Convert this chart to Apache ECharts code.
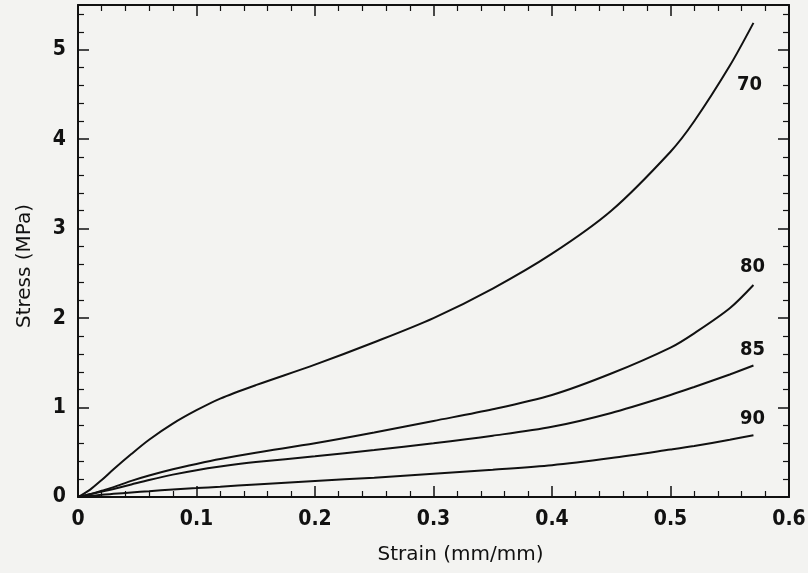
<!DOCTYPE html>
<html>
<head>
<meta charset="utf-8">
<script src="https://cdn.jsdelivr.net/npm/echarts@6/dist/echarts.min.js"></script>
<style>
html,body{margin:0;padding:0;background:#f3f3f1;}
#chart{width:808px;height:573px;}
</style>
</head>
<body>
<div id="chart"></div>
<script>
// ---- data ----
const strain   = [0, 0.01, 0.02, 0.03, 0.045, 0.06, 0.08, 0.1, 0.12, 0.15, 0.2, 0.25, 0.3, 0.35, 0.4, 0.45, 0.5, 0.52, 0.55, 0.57];
const stress70 = [0, 0.08, 0.19, 0.31, 0.48, 0.64, 0.82, 0.97, 1.1, 1.25, 1.48, 1.73, 2.0, 2.33, 2.72, 3.2, 3.86, 4.2, 4.82, 5.3];
const stress80 = [0, 0.03, 0.07, 0.11, 0.18, 0.24, 0.31, 0.37, 0.425, 0.495, 0.6, 0.72, 0.85, 0.98, 1.14, 1.38, 1.67, 1.83, 2.11, 2.37];
const stress85 = [0, 0.03, 0.06, 0.09, 0.14, 0.19, 0.25, 0.3, 0.34, 0.39, 0.455, 0.525, 0.6, 0.685, 0.785, 0.94, 1.14, 1.23, 1.37, 1.47];
const stress90 = [0, 0.01, 0.025, 0.035, 0.05, 0.065, 0.085, 0.1, 0.115, 0.14, 0.18, 0.215, 0.26, 0.305, 0.355, 0.435, 0.53, 0.57, 0.64, 0.69];
const curveNames = ['70', '80', '85', '90'];
const xTicks = { min: 0, max: 0.6, interval: 0.1 };
const yTicks = { min: 0, max: 5.5, interval: 1 };
const xTitle = 'Strain (mm/mm)';
const yTitle = 'Stress (MPa)';

const numFont = '"Liberation Sans Narrow", "Arial Narrow", "DejaVu Sans Condensed", sans-serif';
const nameFont = '"DejaVu Sans", sans-serif';
const ink = '#111';

const allStress = [stress70, stress80, stress85, stress90];
const labelOffsets = [[-4, 62], [-1, -18], [-1, -16], [-1, -16]];

function axisCommon(showLabel) {
  return {
    axisLine: { show: true, onZero: false, lineStyle: { color: ink, width: 2 } },
    axisTick: { show: true, inside: true, length: 11, lineStyle: { color: ink, width: 1.5 } },
    minorTick: { show: true, splitNumber: 5, length: 6, lineStyle: { color: ink, width: 1.2 } },
    splitLine: { show: false },
    axisLabel: showLabel ? {
      show: true, margin: 12, color: ink, fontFamily: numFont, fontWeight: 'bold', fontSize: 21,
      showMaxLabel: false
    } : { show: false }
  };
}

const series = allStress.map((ys, i) => ({
  name: curveNames[i],
  type: 'line',
  data: strain.map((s, k) => [s, ys[k]]),
  smooth: 0.3,
  symbol: 'none',
  lineStyle: { color: ink, width: 2 },
  endLabel: {
    show: true,
    formatter: curveNames[i],
    color: ink,
    fontFamily: numFont,
    fontWeight: 'bold',
    fontSize: 20,
    distance: 0,
    align: 'center',
    verticalAlign: 'middle',
    offset: labelOffsets[i]
  },
  xAxisIndex: 0,
  yAxisIndex: 0
}));

const xAxisBottom = Object.assign({
  type: 'value', position: 'bottom',
  min: xTicks.min, max: xTicks.max, interval: xTicks.interval,
  name: xTitle, nameLocation: 'middle', nameGap: 48, nameMoveOverlap: false,
  nameTextStyle: { fontFamily: nameFont, fontSize: 20, color: ink, padding: [0, 0, 0, 54] }
}, axisCommon(true));
xAxisBottom.axisLabel.showMaxLabel = true;

const option = {
  backgroundColor: '#f3f3f1',
  animation: false,
  grid: { left: 78, right: 19, top: 5, bottom: 76, outerBoundsMode: 'none', containLabel: false },
  xAxis: [
    xAxisBottom,
    Object.assign({
      type: 'value', position: 'top',
      min: xTicks.min, max: xTicks.max, interval: xTicks.interval
    }, axisCommon(false))
  ],
  yAxis: [
    Object.assign({
      type: 'value', position: 'left',
      min: yTicks.min, max: yTicks.max, interval: yTicks.interval,
      name: yTitle, nameLocation: 'middle', nameGap: 43, nameMoveOverlap: false,
      nameTextStyle: { fontFamily: nameFont, fontSize: 20, color: ink, padding: [0, 30, 0, 0] }
    }, axisCommon(true)),
    Object.assign({
      type: 'value', position: 'right',
      min: yTicks.min, max: yTicks.max, interval: yTicks.interval
    }, axisCommon(false))
  ],
  series: series
};

const chart = echarts.init(document.getElementById('chart'), null, { renderer: 'canvas' });
chart.setOption(option);
</script>
</body>
</html>
